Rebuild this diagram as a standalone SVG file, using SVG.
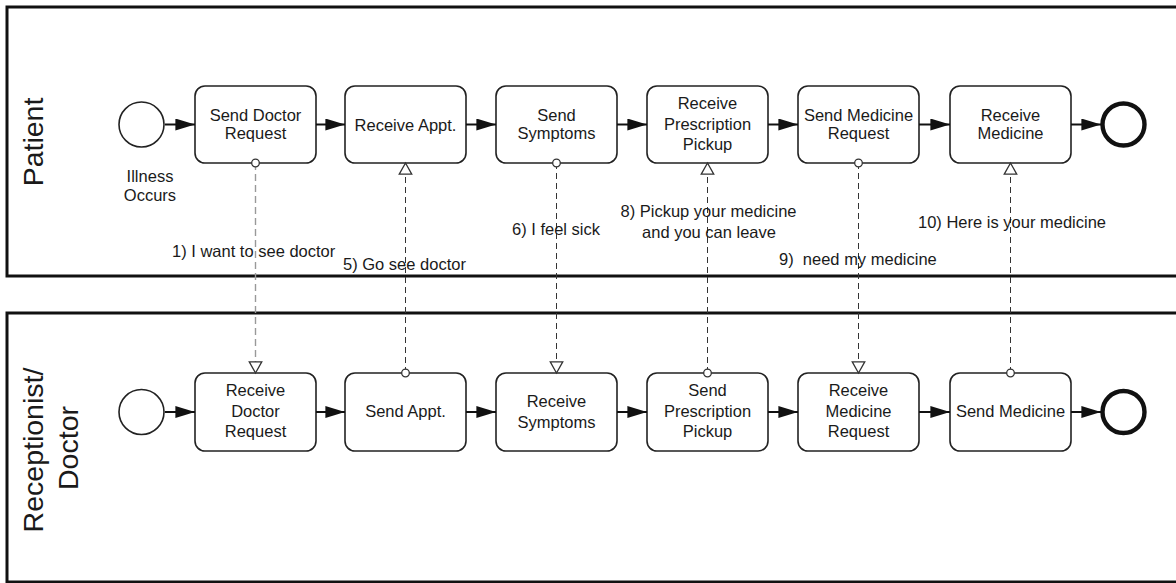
<svg xmlns="http://www.w3.org/2000/svg" width="1176" height="583" viewBox="0 0 1176 583">
<style>
.pool{fill:#fff;stroke:#111;stroke-width:3}
.task{fill:#fff;stroke:#222;stroke-width:1.6}
.t{font-family:"Liberation Sans",Arial,sans-serif;font-size:16.5px;fill:#1a1a1a;text-anchor:middle}
.lbl{font-family:"Liberation Sans",Arial,sans-serif;font-size:16.5px;fill:#1a1a1a;white-space:pre}
.pl{font-family:"Liberation Sans",Arial,sans-serif;font-size:28.5px;fill:#1a1a1a;text-anchor:middle}
.seq{fill:none;stroke:#111;stroke-width:2;marker-end:url(#arr)}
.msg{fill:none;stroke:#333;stroke-width:1;stroke-dasharray:6 4;marker-start:url(#dot);marker-end:url(#open)}
.msg1{stroke:#999;stroke-width:1.4;stroke-dasharray:7 4}
.start{fill:#fff;stroke:#222;stroke-width:1.6}
.end{fill:#fff;stroke:#111;stroke-width:4.4}
</style>
<defs>
<marker id="arr" markerUnits="userSpaceOnUse" markerWidth="20" markerHeight="12" viewBox="0 0 18 11" refX="18" refY="5.5" orient="auto">
<path d="M0,0 L18,5.5 L0,11 z" fill="#111"/>
</marker>
<marker id="open" markerUnits="userSpaceOnUse" markerWidth="14" markerHeight="14" viewBox="0 0 12 13" refX="11" refY="6.5" orient="auto" overflow="visible">
<path d="M0.7,0.7 L11,6.5 L0.7,12.3 z" fill="#fff" stroke="#333" stroke-width="1.2"/>
</marker>
<marker id="dot" markerUnits="userSpaceOnUse" markerWidth="10" markerHeight="10" viewBox="-5 -5 10 10" refX="0" refY="0" orient="auto" overflow="visible">
<circle r="3.8" fill="#fff" stroke="#333" stroke-width="1.3"/>
</marker>
</defs>

<g id="pool-patient">
<rect class="pool" x="7" y="7" width="1190" height="269"/>
<text class="pl" transform="translate(43,142) rotate(-90)">Patient</text>
</g>
<g id="pool-receptionist">
<rect class="pool" x="7" y="313" width="1190" height="269"/>
<text class="pl" transform="translate(43,450) rotate(-90)">Receptionist/</text>
<text class="pl" transform="translate(78,448) rotate(-90)">Doctor</text>
</g>

<g id="start-patient">
<circle class="start" cx="141.5" cy="124.5" r="22.5"/>
<text class="t" x="150" y="182">Illness</text>
<text class="t" x="150" y="201">Occurs</text>
</g>
<g id="task-send-doctor-request">
<rect class="task" x="195" y="86" width="121" height="77" rx="10"/>
<text class="t" x="255.5" y="120.5">Send Doctor</text>
<text class="t" x="255.5" y="139">Request</text>
</g>
<g id="task-receive-appt">
<rect class="task" x="345" y="86" width="121" height="77" rx="10"/>
<text class="t" x="405.5" y="130.5">Receive Appt.</text>
</g>
<g id="task-send-symptoms">
<rect class="task" x="496" y="86" width="121" height="77" rx="10"/>
<text class="t" x="556.5" y="120.5">Send</text>
<text class="t" x="556.5" y="139">Symptoms</text>
</g>
<g id="task-receive-prescription-pickup">
<rect class="task" x="647" y="86" width="121" height="77" rx="10"/>
<text class="t" x="707.5" y="109">Receive</text>
<text class="t" x="707.5" y="130">Prescription</text>
<text class="t" x="707.5" y="150">Pickup</text>
</g>
<g id="task-send-medicine-request">
<rect class="task" x="798" y="86" width="121" height="77" rx="10"/>
<text class="t" x="858.5" y="120.5">Send Medicine</text>
<text class="t" x="858.5" y="139">Request</text>
</g>
<g id="task-receive-medicine">
<rect class="task" x="950" y="86" width="121" height="77" rx="10"/>
<text class="t" x="1010.5" y="120.5">Receive</text>
<text class="t" x="1010.5" y="139">Medicine</text>
</g>
<g id="end-patient">
<circle class="end" cx="1123.5" cy="124.5" r="21"/>
</g>

<g id="start-receptionist">
<circle class="start" cx="141.5" cy="412" r="22.5"/>
</g>
<g id="task-receive-doctor-request">
<rect class="task" x="195" y="373" width="121" height="78" rx="10"/>
<text class="t" x="255.5" y="396">Receive</text>
<text class="t" x="255.5" y="417">Doctor</text>
<text class="t" x="255.5" y="437">Request</text>
</g>
<g id="task-send-appt">
<rect class="task" x="345" y="373" width="121" height="78" rx="10"/>
<text class="t" x="405.5" y="417">Send Appt.</text>
</g>
<g id="task-receive-symptoms">
<rect class="task" x="496" y="373" width="121" height="78" rx="10"/>
<text class="t" x="556.5" y="407">Receive</text>
<text class="t" x="556.5" y="428">Symptoms</text>
</g>
<g id="task-send-prescription-pickup">
<rect class="task" x="647" y="373" width="121" height="78" rx="10"/>
<text class="t" x="707.5" y="396">Send</text>
<text class="t" x="707.5" y="417">Prescription</text>
<text class="t" x="707.5" y="437">Pickup</text>
</g>
<g id="task-receive-medicine-request">
<rect class="task" x="798" y="373" width="121" height="78" rx="10"/>
<text class="t" x="858.5" y="396">Receive</text>
<text class="t" x="858.5" y="417">Medicine</text>
<text class="t" x="858.5" y="437">Request</text>
</g>
<g id="task-send-medicine">
<rect class="task" x="950" y="373" width="121" height="78" rx="10"/>
<text class="t" x="1010.5" y="417">Send Medicine</text>
</g>
<g id="end-receptionist">
<circle class="end" cx="1123.5" cy="412" r="21"/>
</g>

<g id="connectors">
<path class="seq" d="M165,124.5 H195"/>
<path class="seq" d="M316,124.5 H345"/>
<path class="seq" d="M466,124.5 H496"/>
<path class="seq" d="M617,124.5 H647"/>
<path class="seq" d="M768,124.5 H798"/>
<path class="seq" d="M919,124.5 H950"/>
<path class="seq" d="M1071,124.5 H1101"/>
<path class="seq" d="M165,412 H195"/>
<path class="seq" d="M316,412 H345"/>
<path class="seq" d="M466,412 H496"/>
<path class="seq" d="M617,412 H647"/>
<path class="seq" d="M768,412 H798"/>
<path class="seq" d="M919,412 H950"/>
<path class="seq" d="M1071,412 H1101"/>
<path class="msg msg1" d="M255.5,163 V373"/>
<path class="msg" d="M405.5,373 V163"/>
<path class="msg" d="M556.5,163 V373"/>
<path class="msg" d="M707.5,373 V163"/>
<path class="msg" d="M858.5,163 V373"/>
<path class="msg" d="M1010.5,373 V163"/>
<text class="lbl" x="172" y="257">1) I want to see doctor</text>
<text class="lbl" x="343" y="270">5) Go see doctor</text>
<text class="lbl" x="512" y="235">6) I feel sick</text>
<text class="lbl" x="708.5" y="217" text-anchor="middle">8) Pickup your medicine</text>
<text class="lbl" x="709" y="238" text-anchor="middle">and you can leave</text>
<text class="lbl" x="779" y="265">9)  need my medicine</text>
<text class="lbl" x="918" y="228">10) Here is your medicine</text>
</g>
</svg>
